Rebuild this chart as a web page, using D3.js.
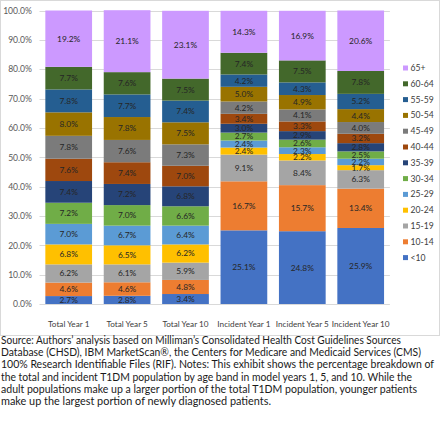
<!DOCTYPE html>
<html><head><meta charset="utf-8">
<script src="https://cdn.jsdelivr.net/npm/d3@7"></script>
<style>
body{margin:0;background:#fff;}
svg{display:block;font-family:Lato, "Liberation Sans", sans-serif;}
</style></head>
<body><svg id="c" width="440" height="422"></svg>
<script>
const categories = ["Total Year 1","Total Year 5","Total Year 10","Incident Year 1","Incident Year 5","Incident Year 10"];
const ageBands = ["<10","10-14","15-19","20-24","25-29","30-34","35-39","40-44","45-49","50-54","55-59","60-64","65+"];
const colors = ["#4472C4","#ED7D31","#A5A5A5","#FFC000","#5B9BD5","#70AD47","#264478","#9E480E","#7B7B7B","#997300","#255E91","#43682B","#CC99FF"];
const totalYear1 = [2.7,4.6,6.2,6.8,7.0,7.2,7.4,7.6,7.8,8.0,7.8,7.7,19.2];
const totalYear5 = [2.8,4.6,6.1,6.5,6.7,7.0,7.2,7.4,7.6,7.8,7.7,7.6,21.1];
const totalYear10 = [3.4,4.8,5.9,6.2,6.4,6.6,6.8,7.0,7.3,7.5,7.4,7.5,23.1];
const incidentYear1 = [25.1,16.7,9.1,2.4,2.4,2.7,3.0,3.4,4.2,5.0,4.2,7.4,14.3];
const incidentYear5 = [24.8,15.7,8.4,2.2,2.3,2.6,2.9,3.3,4.1,4.9,4.3,7.5,16.9];
const incidentYear10 = [25.9,13.4,6.3,1.7,2.2,2.5,2.8,3.2,4.0,4.4,5.2,7.8,20.6];
const yTicks = [0,10,20,30,40,50,60,70,80,90,100];
const noteLines = [
 "Source: Authors\u2019 analysis based on Milliman\u2019s Consolidated Health Cost Guidelines Sources",
 "Database (CHSD), IBM MarketScan\u00AE, the Centers for Medicare and Medicaid Services (CMS)",
 "100% Research Identifiable Files (RIF). Notes: This exhibit shows the percentage breakdown of",
 "the total and incident T1DM population by age band in model years 1, 5, and 10. While the",
 "adult populations make up a larger portion of the total T1DM population, younger patients",
 "make up the largest portion of newly diagnosed patients."
];
const noteWidths = [400,420,433,411,416,270];

const series = [totalYear1,totalYear5,totalYear10,incidentYear1,incidentYear5,incidentYear10];
const rows = categories.map((c,i)=>{const r={cat:c}; ageBands.forEach((b,j)=>r[b]=series[i][j]); return r;});

const svg = d3.select("#c");
svg.append("rect").attr("x",0.5).attr("y",0.5).attr("width",439).attr("height",335)
  .attr("fill","none").attr("stroke","#d9d9d9");

const x = d3.scaleBand().domain(categories).range([39.5,389.9]).paddingInner(0.2).paddingOuter(0.1);
const y = d3.scaleLinear().domain([0,100]).range([304,10.5]);

svg.append("g").selectAll("line").data(yTicks).join("line")
  .attr("x1",39.5).attr("x2",389.9).attr("y1",d=>Math.round(y(d))+0.5).attr("y2",d=>Math.round(y(d))+0.5)
  .attr("stroke","#d9d9d9").attr("stroke-width",1);

const yAxis = d3.axisLeft(y).tickValues(yTicks).tickSize(0).tickPadding(0).tickFormat(d=>d3.format(".1f")(d)+"%");
const ya = svg.append("g").attr("transform","translate(32,0)").call(yAxis);
ya.select(".domain").remove();
ya.selectAll("text").attr("font-size",8.6).attr("fill","#595959").attr("font-family","Lato");

const xAxis = d3.axisBottom(x).tickSize(0).tickPadding(0);
const xa = svg.append("g").attr("transform","translate(0,321)").call(xAxis);
xa.select(".domain").remove();
xa.selectAll("text").attr("font-size",8.2).attr("fill","#404040").attr("font-family","Lato");

const stack = d3.stack().keys(ageBands)(rows);
const g = svg.append("g");
stack.forEach((layer,j)=>{
  g.append("g").attr("fill",colors[j]).selectAll("rect").data(layer).join("rect")
    .attr("x",d=>x(d.data.cat)).attr("width",x.bandwidth())
    .attr("y",d=>y(d[1])).attr("height",d=>y(d[0])-y(d[1]));
});
stack.forEach((layer,j)=>{
  g.append("g").selectAll("text").data(layer).join("text")
    .attr("x",d=>x(d.data.cat)+x.bandwidth()/2)
    .attr("y",d=>(y(d[0])+y(d[1]))/2)
    .attr("dy","0.35em").attr("text-anchor","middle")
    .attr("font-size",8.4).attr("fill","#262626")
    .text(d=>d3.format(".1f")(d[1]-d[0])+"%");
});

const legendOrder = ageBands.slice().reverse();
const leg = svg.append("g").selectAll("g").data(legendOrder).join("g")
  .attr("transform",(d,i)=>`translate(403,${68+i*15.8})`);
leg.append("rect").attr("x",0).attr("y",-2.5).attr("width",5).attr("height",5)
  .attr("fill",d=>colors[ageBands.indexOf(d)]);
leg.append("text").attr("x",7.5).attr("dy","0.35em").attr("font-size",8.6).attr("fill","#404040").text(d=>d);

const note = svg.append("g");
noteLines.forEach((l,i)=>{
  note.append("text").attr("x",1).attr("y",344+i*12.2)
    .attr("font-size",10.6).attr("fill","#1a1a1a")
    .attr("textLength",noteWidths[i]).attr("lengthAdjust","spacingAndGlyphs").text(l);
});
</script></body></html>
